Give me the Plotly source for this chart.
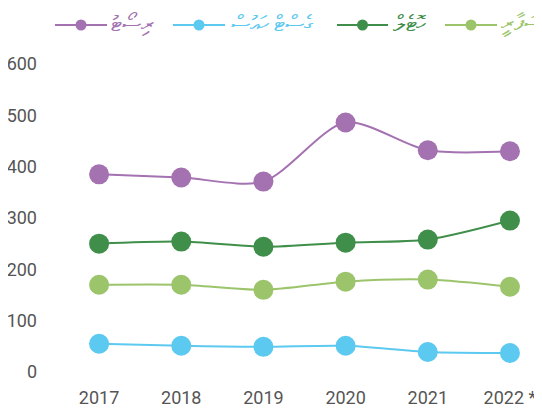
import plotly.graph_objects as go

years = ["2017", "2018", "2019", "2020", "2021", "2022 *"]
names = ["ރިސޯޓު", "ގެސްޓް ހައުސް", "ހޮޓެލް", "ސަފާރީ"]
resort = [385, 379, 371, 486, 432, 430]
guesthouse = [55, 51, 49, 51, 39, 37]
hotel = [250, 254, 244, 252, 258, 295]
safari = [170, 170, 160, 176, 180, 166]
colors = ["#A471B1", "#5CC9F0", "#3F8F4A", "#9CC46B"]
series = [resort, guesthouse, hotel, safari]

# page body has an 8px margin, so the figure starts at (8, 8) in the window
OFF = 8
W, H = 542 - OFF, 414 - OFF


def px(x):
    return (x - OFF) / W


def py(y):
    return 1 - (y - OFF) / H


fig = go.Figure()
for name, vals, c in zip(names, series, colors):
    fig.add_trace(go.Scatter(
        x=years, y=vals, name=name, mode="lines+markers",
        line=dict(color=c, width=2, shape="spline", smoothing=0.8),
        marker=dict(color=c, size=20),
        showlegend=False,
    ))

# manual legend
leg_items = [(55, 107, 110), (173, 225, 230), (337, 388, 392), (445, 497, 500)]
leg_y = 25
shapes, annos = [], []
for (x0, x1, tx), name, c in zip(leg_items, names, colors):
    shapes.append(dict(type="line", xref="paper", yref="paper",
                       x0=px(x0), x1=px(x1), y0=py(leg_y), y1=py(leg_y),
                       line=dict(color=c, width=2)))
    xm = (x0 + x1) / 2
    r = 5.5
    shapes.append(dict(type="circle", xref="paper", yref="paper",
                       x0=px(xm - r), x1=px(xm + r),
                       y0=py(leg_y + r), y1=py(leg_y - r),
                       fillcolor=c, line=dict(color=c, width=0)))
    annos.append(dict(text=name, xref="paper", yref="paper", x=px(tx), y=py(leg_y - 1),
                      xanchor="left", yanchor="middle", showarrow=False,
                      borderpad=0, font=dict(size=22, color=c)))

fig.update_layout(
    width=W, height=H,
    margin=dict(l=0, r=0, t=0, b=0, autoexpand=False),
    paper_bgcolor="white", plot_bgcolor="white",
    font=dict(family="Roboto", size=18, color="#555555"),
    showlegend=False,
    shapes=shapes, annotations=annos,
    xaxis=dict(type="category", range=[-0.5, 5.39], domain=[px(58), 1],
               showgrid=False, zeroline=False, showline=False, ticks="",
               tickfont=dict(size=18)),
    yaxis=dict(range=[-25, 640], domain=[py(384.8), py(43.5)],
               tickvals=[0, 100, 200, 300, 400, 500, 600],
               showgrid=False, zeroline=False, showline=False, ticks="",
               ticklabelstandoff=20, tickfont=dict(size=18)),
)
fig.write_html("out.html")
